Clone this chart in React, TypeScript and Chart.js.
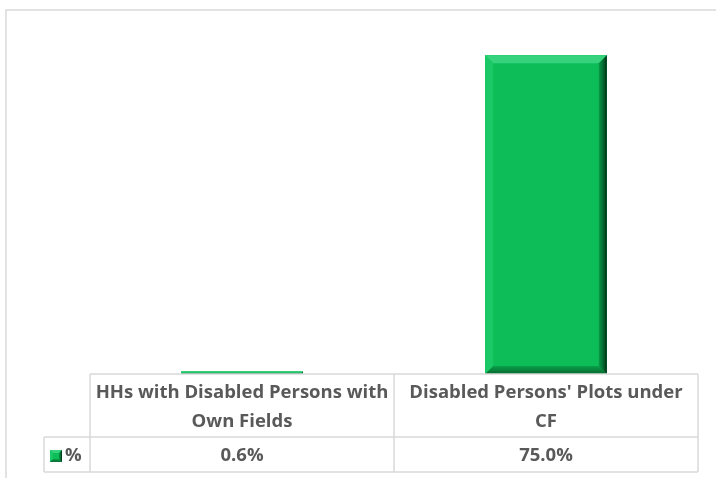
import React, { useEffect, useRef } from "react";
import { Chart, registerables } from "chart.js";

Chart.register(...registerables);

const categories: string[][] = [
  ["HHs with Disabled Persons with", "Own Fields"],
  ["Disabled Persons' Plots under", "CF"],
];
const seriesName = "%";
const values: number[] = [0.6, 75.0];
const yMax = 80;

const GRID = "#D9D9D9";
const TEXT = "#595959";
const FONT = "bold 18.5px 'Open Sans', sans-serif";

function drawBevel(ctx: CanvasRenderingContext2D, left: number, top: number, right: number, bottom: number, maxB: number) {
  const w = right - left;
  const h = bottom - top;
  if (h <= 0 || w <= 0) return;
  const b = Math.min(maxB, h / 2, w / 2);
  ctx.save();
  ctx.fillStyle = "#0DBD58";
  ctx.fillRect(left, top, w, h);
  ctx.beginPath();
  ctx.moveTo(left, top); ctx.lineTo(right, top); ctx.lineTo(right - b, top + b); ctx.lineTo(left + b, top + b); ctx.closePath();
  ctx.fillStyle = "#36D37C"; ctx.fill();
  ctx.beginPath();
  ctx.moveTo(left, top); ctx.lineTo(left + b, top + b); ctx.lineTo(left + b, bottom - b); ctx.lineTo(left, bottom); ctx.closePath();
  ctx.fillStyle = "#1AC866"; ctx.fill();
  const gb = ctx.createLinearGradient(0, bottom - b, 0, bottom);
  gb.addColorStop(0, "#0AA04A"); gb.addColorStop(1, "#05682F");
  ctx.beginPath();
  ctx.moveTo(left, bottom); ctx.lineTo(right, bottom); ctx.lineTo(right - b, bottom - b); ctx.lineTo(left + b, bottom - b); ctx.closePath();
  ctx.fillStyle = gb; ctx.fill();
  const gr = ctx.createLinearGradient(right - b, 0, right, 0);
  gr.addColorStop(0, "#0A9A47"); gr.addColorStop(0.6, "#056530"); gr.addColorStop(1, "#012A12");
  ctx.beginPath();
  ctx.moveTo(right, top); ctx.lineTo(right, bottom); ctx.lineTo(right - b, bottom - b); ctx.lineTo(right - b, top + b); ctx.closePath();
  ctx.fillStyle = gr; ctx.fill();
  ctx.restore();
}

const framePlugin = {
  id: "frame",
  beforeDraw(chart: any) {
    const ctx = chart.ctx as CanvasRenderingContext2D;
    ctx.save();
    ctx.fillStyle = "#FFFFFF";
    ctx.fillRect(0, 0, chart.width, chart.height);
    ctx.strokeStyle = GRID;
    ctx.lineWidth = 1.5;
    ctx.beginPath();
    ctx.moveTo(6, chart.height + 5);
    ctx.lineTo(6, 10);
    ctx.lineTo(chart.width + 5, 10);
    ctx.stroke();
    ctx.restore();
  },
};

const bevelPlugin = {
  id: "bevel",
  afterDatasetsDraw(chart: any) {
    const ctx = chart.ctx as CanvasRenderingContext2D;
    const meta = chart.getDatasetMeta(0);
    meta.data.forEach((bar: any) => {
      const p = bar.getProps(["x", "y", "base", "width"], true);
      const left = p.x - p.width / 2;
      const right = p.x + p.width / 2;
      const top = Math.min(p.y, p.base);
      const bottom = Math.max(p.y, p.base);
      drawBevel(ctx, left, top, right, bottom, 8);
    });
  },
};

const tablePlugin = {
  id: "dataTable",
  afterDraw(chart: any) {
    const ctx = chart.ctx as CanvasRenderingContext2D;
    const area = chart.chartArea;
    const xs = chart.scales.x;
    const n = categories.length;
    const centers = categories.map((_, i) => xs.getPixelForValue(i));
    const bounds: number[] = [area.left];
    for (let i = 0; i < n - 1; i++) bounds.push((centers[i] + centers[i + 1]) / 2);
    bounds.push(area.right);

    const yTop = area.bottom;
    const yMid = yTop + 63;
    const yBot = yTop + 98;
    const keyLeft = 44;

    ctx.save();
    ctx.strokeStyle = GRID;
    ctx.lineWidth = 1.5;
    ctx.beginPath();
    ctx.moveTo(area.left, yTop); ctx.lineTo(area.right, yTop);
    ctx.moveTo(keyLeft, yMid); ctx.lineTo(area.right, yMid);
    ctx.moveTo(keyLeft, yBot); ctx.lineTo(area.right, yBot);
    ctx.moveTo(keyLeft, yMid); ctx.lineTo(keyLeft, yBot);
    bounds.forEach((b) => { ctx.moveTo(b, yTop); ctx.lineTo(b, yBot); });
    ctx.stroke();

    ctx.fillStyle = TEXT;
    ctx.font = FONT;
    ctx.textAlign = "center";
    ctx.textBaseline = "middle";
    categories.forEach((lines, i) => {
      lines.forEach((ln, j) => ctx.fillText(ln, centers[i], yTop + 19 + j * 29));
      ctx.fillText(values[i].toFixed(1) + "%", centers[i], yMid + 19);
    });

    drawBevel(ctx, 50, yMid + 13, 62, yMid + 25, 3);
    ctx.fillStyle = TEXT;
    ctx.textAlign = "left";
    ctx.fillText(seriesName, 65, yMid + 19);
    ctx.restore();
  },
};

export default function App() {
  const ref = useRef<HTMLCanvasElement>(null);
  useEffect(() => {
    if (!ref.current) return;
    const chart = new Chart(ref.current, {
      type: "bar",
      data: {
        labels: categories.map((c) => c.join(" ")),
        datasets: [
          {
            label: seriesName,
            data: values,
            backgroundColor: "#0DBD58",
            borderWidth: 0,
            barPercentage: 1,
            categoryPercentage: 0.4,
          },
        ],
      },
      options: {
        responsive: false,
        animation: false,
        layout: { padding: { left: 90, right: 18, top: 34, bottom: 104 } },
        scales: {
          x: { display: false },
          y: { display: false, min: 0, max: yMax },
        },
        plugins: { legend: { display: false }, tooltip: { enabled: false } },
      },
      plugins: [framePlugin, bevelPlugin, tablePlugin],
    });
    return () => chart.destroy();
  }, []);
  return (
    <div style={{ position: "fixed", left: 0, top: 0, width: 716, height: 478, background: "#fff" }}>
      <canvas ref={ref} width={716} height={478} />
    </div>
  );
}
